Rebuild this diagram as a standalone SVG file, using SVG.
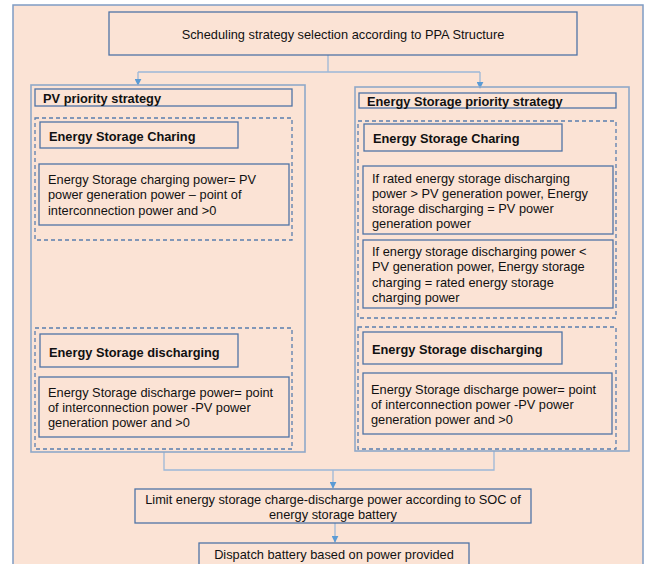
<svg xmlns="http://www.w3.org/2000/svg" width="648" height="564" viewBox="0 0 648 564">
<defs>
<style>
.bg{fill:#FBE3D5;stroke:#7F9CC4;stroke-width:1.5}
.strat{fill:none;stroke:#8FA8C8;stroke-width:1.6}
.box{fill:#FBE3D5;stroke:#4F74A6;stroke-width:1.3}
.dash{fill:none;stroke:#5A7FAE;stroke-width:1.3;stroke-dasharray:4,3}
.t{font-family:"Liberation Sans",Arial,sans-serif;font-size:12.8px;fill:#111}
.b{font-family:"Liberation Sans",Arial,sans-serif;font-size:12.8px;font-weight:bold;fill:#111}
.c{fill:none;stroke:#9CB8D8;stroke-width:1.3}
</style>
<marker id="ah" viewBox="0 0 10 10" refX="9" refY="5" markerWidth="7" markerHeight="7" markerUnits="userSpaceOnUse" orient="auto">
<path d="M0,0 L10,5 L0,10 z" fill="#5B9BD5"/>
</marker>
</defs>
<rect class="bg" x="13" y="5" width="630" height="570"/>

<g id="connectors">
<path class="c" d="M328,55 V72 M138,72 H480"/>
<path class="c" d="M138,72 V85" marker-end="url(#ah)"/>
<path class="c" d="M480,72 V88" marker-end="url(#ah)"/>
<path class="c" d="M164,452 V470 H494 V451"/>
<path class="c" d="M333,470 V488" marker-end="url(#ah)"/>
<path class="c" d="M335,523 V542" marker-end="url(#ah)"/>
</g>

<g id="title">
<rect class="box" x="109" y="12" width="468" height="43"/>
<text class="t" x="343" y="38.5" text-anchor="middle">Scheduling strategy selection according to PPA Structure</text>
</g>

<g id="pv-strategy">
<rect class="strat" x="31" y="85" width="274" height="367"/>
<rect class="box" x="35" y="89" width="257" height="17"/>
<text class="b" x="43" y="102.5">PV priority strategy</text>
</g>
<g id="pv-charging">
<rect class="dash" x="35" y="118" width="257" height="122"/>
<rect class="box" x="40" y="122" width="198" height="26"/>
<text class="b" x="49" y="140.5">Energy Storage Charing</text>
<rect class="box" x="39" y="164" width="250" height="61"/>
<text class="t" x="48" y="183.5">Energy Storage charging power= PV</text>
<text class="t" x="48" y="199">power generation power – point of</text>
<text class="t" x="48" y="214.5">interconnection power and &gt;0</text>
</g>
<g id="pv-discharging">
<rect class="dash" x="35" y="328" width="257" height="121"/>
<rect class="box" x="40" y="334" width="198" height="33"/>
<text class="b" x="49" y="356.5">Energy Storage discharging</text>
<rect class="box" x="39" y="377" width="250" height="60"/>
<text class="t" x="48" y="396.5">Energy Storage discharge power= point</text>
<text class="t" x="48" y="411.5">of interconnection power -PV power</text>
<text class="t" x="48" y="426.5">generation power and &gt;0</text>
</g>

<g id="es-strategy">
<rect class="strat" x="355" y="87" width="274" height="364"/>
<rect class="box" x="359" y="93" width="257" height="15"/>
<text class="b" x="367" y="105.5">Energy Storage priority strategy</text>
</g>
<g id="es-charging">
<rect class="dash" x="358" y="121" width="258" height="197"/>
<rect class="box" x="364" y="124" width="198" height="27"/>
<text class="b" x="373" y="142.5">Energy Storage Charing</text>
<rect class="box" x="363" y="166" width="250" height="68"/>
<text class="t" x="372" y="182.5">If rated energy storage discharging</text>
<text class="t" x="372" y="197.5">power &gt; PV generation power, Energy</text>
<text class="t" x="372" y="212.5">storage discharging = PV power</text>
<text class="t" x="372" y="228">generation power</text>
<rect class="box" x="363" y="240" width="250" height="68"/>
<text class="t" x="372" y="255.5">If energy storage discharging power &lt;</text>
<text class="t" x="372" y="271">PV generation power, Energy storage</text>
<text class="t" x="372" y="286.5">charging = rated energy storage</text>
<text class="t" x="372" y="302">charging power</text>
</g>
<g id="es-discharging">
<rect class="dash" x="358" y="327" width="258" height="122"/>
<rect class="box" x="363" y="332" width="199" height="32"/>
<text class="b" x="372" y="353.5">Energy Storage discharging</text>
<rect class="box" x="363" y="373" width="249" height="61"/>
<text class="t" x="371" y="393.5">Energy Storage discharge power= point</text>
<text class="t" x="371" y="408.5">of interconnection power -PV power</text>
<text class="t" x="371" y="423.5">generation power and &gt;0</text>
</g>

<g id="limit">
<rect class="box" x="135" y="489" width="396" height="34"/>
<text class="t" x="333" y="503.5" text-anchor="middle">Limit energy storage charge-discharge power according to SOC of</text>
<text class="t" x="333" y="518.5" text-anchor="middle">energy storage battery</text>
</g>
<g id="dispatch">
<rect class="box" x="199" y="543" width="270" height="30"/>
<text class="t" x="334" y="558.5" text-anchor="middle">Dispatch battery based on power provided</text>
</g>
</svg>
